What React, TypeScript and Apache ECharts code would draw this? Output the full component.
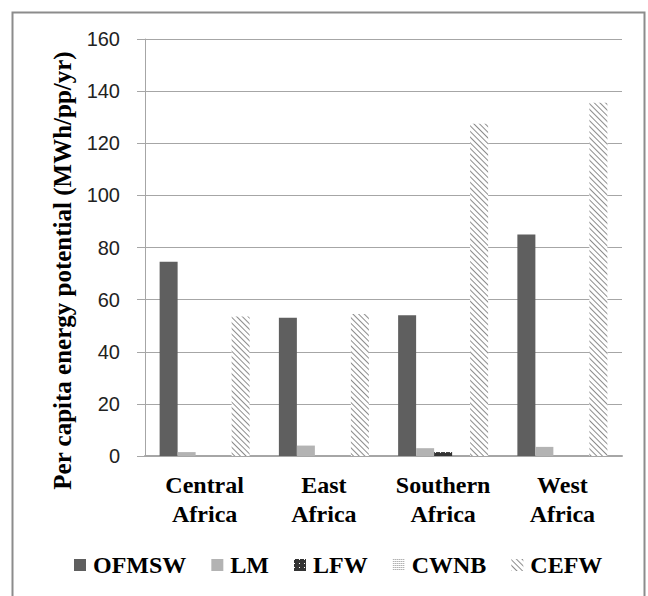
import React, { useEffect, useRef } from "react";
import * as echarts from "echarts";

const categories = ["Central\nAfrica", "East\nAfrica", "Southern\nAfrica", "West\nAfrica"];
const seriesNames = ["OFMSW", "LM", "LFW", "CWNB", "CEFW"];
const ofmsw = [74.5, 53, 54, 85];
const lm = [1.5, 4, 3, 3.5];
const lfw = [0, 0, 1.5, 0];
const cwnb = [0, 0, 0, 0];
const cefw = [53.5, 54.5, 127.5, 135.5];
const yTicks = { min: 0, max: 160, interval: 20 };
const yName = "Per capita energy potential (MWh/pp/yr)";

export default function App() {
  const ref = useRef<HTMLDivElement>(null);
  useEffect(() => {
    const chart = echarts.init(ref.current!, null, { renderer: "svg" });
    const serif = "'Liberation Serif', 'Times New Roman', serif";
    const bar = (name: string, data: number[], color: string, decal?: any) => ({
      name,
      type: "bar",
      data,
      barWidth: 18,
      barGap: "0%",
      itemStyle: decal ? { color, decal } : { color },
    });
    chart.setOption({
      animation: false,
      backgroundColor: "#fff",
      graphic: [
        {
          type: "rect",
          shape: { x: 12.5, y: 12.5, width: 632, height: 620 },
          style: { fill: "none", stroke: "#8c8c8c", lineWidth: 2 },
          silent: true,
        },
      ],
      grid: { left: 145, right: 26, top: 39, bottom: 140 },
      legend: {
        data: seriesNames,
        left: 69,
        top: 548,
        icon: "rect",
        itemWidth: 12,
        itemHeight: 12,
        itemGap: 25,
        textStyle: {
          fontFamily: serif,
          fontWeight: "bold",
          fontSize: 24,
          color: "#000",
          padding: [0, 0, 0, 2],
        },
      },
      xAxis: {
        type: "category",
        data: categories,
        axisLine: { lineStyle: { color: "#a6a6a6", width: 2 } },
        axisTick: { show: false },
        axisLabel: {
          interval: 0,
          fontFamily: serif,
          fontWeight: "bold",
          fontSize: 24,
          lineHeight: 29,
          color: "#000",
          margin: 14,
        },
      },
      yAxis: {
        type: "value",
        min: yTicks.min,
        max: yTicks.max,
        interval: yTicks.interval,
        name: yName,
        nameLocation: "middle",
        nameGap: 70,
        nameTextStyle: {
          fontFamily: serif,
          fontWeight: "bold",
          fontSize: 25,
          color: "#000",
          padding: [0, 46, 0, 0],
        },
        axisLine: { show: true, lineStyle: { color: "#a6a6a6", width: 1 } },
        axisTick: { show: true, length: 8, lineStyle: { color: "#a6a6a6" } },
        axisLabel: {
          fontFamily: "'Liberation Sans', Arial, sans-serif",
          fontSize: 20,
          color: "#222",
          margin: 25,
        },
        splitLine: { lineStyle: { color: "#a6a6a6", width: 1 } },
      },
      series: [
        bar(seriesNames[0], ofmsw, "#5f5f5f"),
        bar(seriesNames[1], lm, "#b3b3b3"),
        bar(seriesNames[2], lfw, "#333333", {
          symbol: "rect",
          symbolSize: 1,
          dashArrayX: [1, 4],
          dashArrayY: [1, 3],
          color: "#ffffff",
        }),
        bar(seriesNames[3], cwnb, "#ffffff", {
          symbol: "rect",
          symbolSize: 1,
          dashArrayX: [1, 1],
          dashArrayY: [1, 1],
          color: "#8a8a8a",
        }),
        bar(seriesNames[4], cefw, "#ffffff", {
          symbol: "rect",
          symbolSize: 1,
          dashArrayX: [[1, 0]],
          dashArrayY: [1, 2.2],
          rotation: Math.PI / 4,
          color: "#8c8c8c",
        }),
      ],
    });
    return () => chart.dispose();
  }, []);
  return (
    <div
      ref={ref}
      style={{ position: "fixed", left: 0, top: 0, width: 648, height: 596 }}
    />
  );
}
